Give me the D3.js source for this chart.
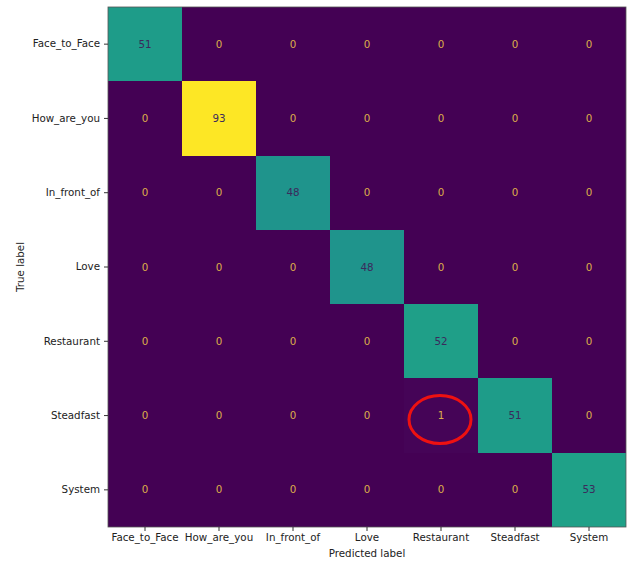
<!DOCTYPE html>
<meta charset="utf-8">
<script src="https://d3js.org/d3.v7.min.js"></script>
<style>
  body { margin: 0; background: #fff; }
  text { font-family: "DejaVu Sans", sans-serif; }
</style>
<div id="my_dataviz"></div>
<script>
// class names, same order on both axes
const labels = ["Face_to_Face", "How_are_you", "In_front_of", "Love", "Restaurant", "Steadfast", "System"];

// confusion matrix rows = true label, columns = predicted label
const matrix = [
  [51, 0, 0, 0, 0, 0, 0],
  [0, 93, 0, 0, 0, 0, 0],
  [0, 0, 48, 0, 0, 0, 0],
  [0, 0, 0, 48, 0, 0, 0],
  [0, 0, 0, 0, 52, 0, 0],
  [0, 0, 0, 0, 1, 51, 0],
  [0, 0, 0, 0, 0, 0, 53]
];

// the cell that is circled in red
const highlight = {row: "Steadfast", col: "Restaurant"};

const W = 627, H = 562;
const margin = {top: 7, right: 1, bottom: 35, left: 108};
const width = W - margin.left - margin.right,
      height = H - margin.top - margin.bottom;

const svg = d3.select("#my_dataviz")
  .append("svg")
    .attr("width", W)
    .attr("height", H)
  .append("g")
    .attr("transform", `translate(${margin.left},${margin.top})`);

const x = d3.scaleBand().domain(labels).range([0, width]);
const y = d3.scaleBand().domain(labels).range([0, height]);

const maxV = d3.max(matrix.flat());
const color = d3.scaleSequential(d3.interpolateViridis).domain([0, maxV]);
const thresh = maxV / 2;

const cells = [];
matrix.forEach((row, i) => row.forEach((v, j) => cells.push({t: labels[i], p: labels[j], v: v})));

// background in the lowest colour so no seams show between cells
svg.append("rect")
  .attr("width", width)
  .attr("height", height)
  .attr("fill", color(0));

svg.selectAll("rect.cell")
  .data(cells.filter(d => d.v > 0))
  .join("rect")
    .attr("class", "cell")
    .attr("x", d => x(d.p))
    .attr("y", d => y(d.t))
    .attr("width", x.bandwidth())
    .attr("height", y.bandwidth())
    .attr("shape-rendering", "crispEdges")
    .attr("fill", d => color(d.v));

svg.selectAll("text.val")
  .data(cells)
  .join("text")
    .attr("class", "val")
    .attr("x", d => x(d.p) + x.bandwidth() / 2)
    .attr("y", d => y(d.t) + y.bandwidth() / 2)
    .attr("text-anchor", "middle")
    .attr("dy", "0.35em")
    .attr("font-size", 10.3)
    .attr("fill", d => d.v < thresh ? "#dcae4a" : "#3b2a5c")
    .text(d => d.v);

// frame
svg.append("rect")
  .attr("width", width)
  .attr("height", height)
  .attr("fill", "none")
  .attr("stroke", "#555")
  .attr("stroke-width", 0.8);

// axes
const xAxis = svg.append("g")
  .attr("transform", `translate(0,${height})`)
  .call(d3.axisBottom(x).tickSize(4).tickPadding(3));
const yAxis = svg.append("g")
  .call(d3.axisLeft(y).tickSize(4).tickPadding(4));
[xAxis, yAxis].forEach(a => {
  a.select(".domain").remove();
  a.selectAll("line").attr("stroke", "#333");
  a.selectAll("text").attr("font-size", 10.3).attr("fill", "#222")
    .style("font-family", "DejaVu Sans, sans-serif");
});

svg.append("text")
  .attr("x", width / 2)
  .attr("y", height + 30)
  .attr("text-anchor", "middle")
  .attr("font-size", 10.3)
  .attr("fill", "#222")
  .text("Predicted label");

svg.append("text")
  .attr("transform", `translate(${20 - margin.left},${height / 2}) rotate(-90)`)
  .attr("text-anchor", "middle")
  .attr("dy", "0.35em")
  .attr("font-size", 10.3)
  .attr("fill", "#222")
  .text("True label");

// red circle around the misclassified cell
svg.append("ellipse")
  .attr("cx", x(highlight.col) + x.bandwidth() / 2 - 1)
  .attr("cy", y(highlight.row) + y.bandwidth() / 2 + 4)
  .attr("rx", 31)
  .attr("ry", 24)
  .attr("fill", "none")
  .attr("stroke", "#ee1111")
  .attr("stroke-width", 3);
</script>
